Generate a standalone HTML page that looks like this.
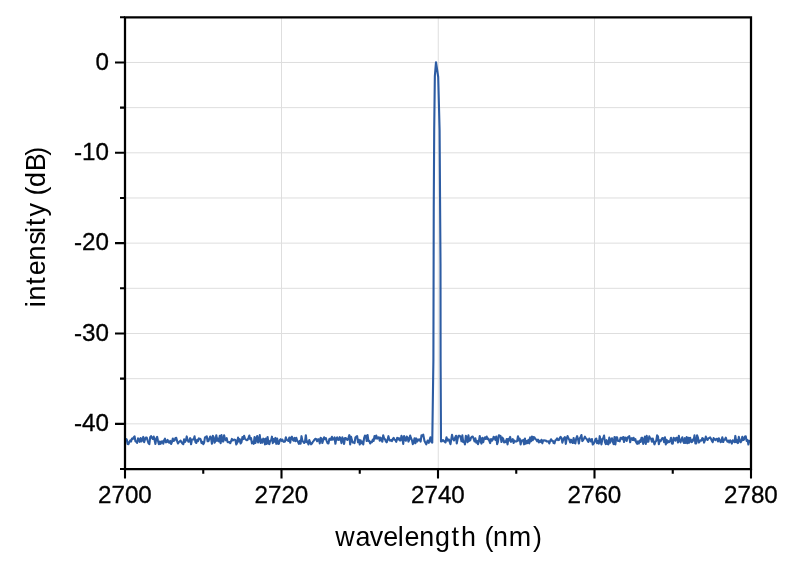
<!DOCTYPE html>
<html lang="en">
<head>
<meta charset="utf-8">
<title>Spectrum</title>
<style>
html,body{margin:0;padding:0;background:#fff;}
body{width:800px;height:565px;overflow:hidden;}
svg{display:block;will-change:transform;}
</style>
</head>
<body>
<svg width="800" height="565" viewBox="0 0 800 565">
<rect x="0" y="0" width="800" height="565" fill="#ffffff"/>
<path d="M281.50 17.30V469.00M438.25 17.30V469.00M594.50 17.30V469.00M125.00 62.47H751.00M125.00 107.64H751.00M125.00 152.81H751.00M125.00 197.98H751.00M125.00 243.15H751.00M125.00 288.32H751.00M125.00 333.49H751.00M125.00 378.66H751.00M125.00 423.83H751.00" stroke="#dedede" stroke-width="1" fill="none"/>
<path d="M125.00 440.57L125.87 439.01L126.74 439.39L127.61 443.96L128.48 444.16L129.35 441.79L130.22 440.45L131.09 441.53L131.96 438.51L132.82 438.99L133.69 437.45L134.56 436.30L135.43 441.43L136.30 441.56L137.17 442.79L138.04 438.40L138.91 439.50L139.78 441.84L140.65 438.00L141.52 441.51L142.39 440.18L143.26 436.91L144.13 442.18L145.00 439.49L145.87 437.53L146.74 437.43L147.61 440.51L148.47 443.06L149.34 444.14L150.21 437.20L151.08 436.15L151.95 437.87L152.82 438.98L153.69 436.52L154.56 440.01L155.43 443.93L156.30 438.44L157.17 436.88L158.04 440.94L158.91 444.24L159.78 441.50L160.65 443.88L161.52 441.77L162.39 441.24L163.26 443.66L164.12 440.33L164.99 438.70L165.86 442.37L166.73 441.94L167.60 439.93L168.47 442.18L169.34 442.76L170.21 440.89L171.08 443.98L171.95 441.98L172.82 438.55L173.69 440.95L174.56 440.34L175.43 438.02L176.30 437.89L177.17 441.28L178.04 443.50L178.91 442.02L179.78 441.35L180.64 440.71L181.51 442.19L182.38 443.54L183.25 444.25L184.12 439.27L184.99 442.12L185.86 440.41L186.73 436.43L187.60 440.07L188.47 441.72L189.34 441.24L190.21 438.16L191.08 444.30L191.95 439.60L192.82 439.53L193.69 439.49L194.56 436.35L195.43 442.08L196.29 442.99L197.16 439.87L198.03 441.10L198.90 438.39L199.77 438.67L200.64 439.38L201.51 443.10L202.38 441.94L203.25 444.25L204.12 442.70L204.99 437.39L205.86 436.92L206.73 436.25L207.60 441.25L208.47 441.27L209.34 438.62L210.21 436.52L211.07 438.28L211.94 443.71L212.81 435.81L213.68 437.34L214.55 442.81L215.42 441.33L216.29 435.21L217.16 440.67L218.03 438.65L218.90 441.52L219.77 435.85L220.64 443.12L221.51 435.13L222.38 441.16L223.25 441.50L224.12 435.22L224.99 439.48L225.86 440.36L226.73 438.17L227.59 442.11L228.46 442.21L229.33 442.03L230.20 443.26L231.07 441.13L231.94 438.93L232.81 440.49L233.68 439.71L234.55 439.62L235.42 440.02L236.29 444.48L237.16 442.87L238.03 437.57L238.90 441.40L239.77 439.20L240.64 443.50L241.51 442.14L242.38 437.12L243.24 439.14L244.11 435.78L244.98 438.65L245.85 439.61L246.72 440.19L247.59 439.94L248.46 437.82L249.33 435.50L250.20 439.16L251.07 438.10L251.94 443.35L252.81 441.78L253.68 443.82L254.55 437.01L255.42 443.04L256.29 438.96L257.16 436.06L258.02 442.42L258.89 440.70L259.76 435.04L260.63 442.97L261.50 439.58L262.37 442.64L263.24 438.67L264.11 439.21L264.98 444.34L265.85 438.54L266.72 443.90L267.59 436.97L268.46 443.51L269.33 444.14L270.20 440.83L271.07 440.47L271.94 436.68L272.81 443.09L273.67 439.05L274.54 441.70L275.41 437.93L276.28 443.82L277.15 438.44L278.02 443.72L278.89 443.88L279.76 440.17L280.63 439.22L281.50 440.84L282.37 439.60L283.24 441.60L284.11 441.88L284.98 441.53L285.85 437.24L286.72 439.73L287.59 440.46L288.46 440.92L289.33 437.50L290.19 442.70L291.06 437.65L291.93 436.68L292.80 439.78L293.67 440.75L294.54 437.93L295.41 441.24L296.28 437.75L297.15 440.64L298.02 441.86L298.89 443.84L299.76 440.90L300.63 443.71L301.50 436.18L302.37 440.77L303.24 441.71L304.11 443.01L304.98 442.00L305.84 435.21L306.71 442.18L307.58 441.56L308.45 444.48L309.32 440.01L310.19 442.57L311.06 444.33L311.93 443.51L312.80 441.93L313.67 440.92L314.54 439.67L315.41 438.75L316.28 439.20L317.15 441.25L318.02 439.24L318.89 439.29L319.76 443.35L320.62 437.80L321.49 438.59L322.36 442.96L323.23 440.00L324.10 437.28L324.97 439.10L325.84 438.12L326.71 441.04L327.58 443.23L328.45 443.51L329.32 439.18L330.19 438.52L331.06 439.78L331.93 436.88L332.80 439.70L333.67 438.97L334.54 437.46L335.41 443.80L336.27 438.63L337.14 437.43L338.01 439.79L338.88 439.93L339.75 437.17L340.62 439.05L341.49 443.11L342.36 437.40L343.23 439.41L344.10 443.94L344.97 438.08L345.84 438.05L346.71 439.57L347.58 439.89L348.45 437.84L349.32 435.15L350.19 444.35L351.06 436.67L351.92 440.21L352.79 442.51L353.66 442.50L354.53 443.16L355.40 437.56L356.27 436.66L357.14 436.03L358.01 442.30L358.88 439.80L359.75 444.48L360.62 440.20L361.49 443.17L362.36 441.49L363.23 444.50L364.10 438.11L364.97 435.65L365.84 435.88L366.71 440.95L367.58 434.95L368.44 441.06L369.31 440.81L370.18 443.54L371.05 441.78L371.92 442.13L372.79 439.68L373.66 440.94L374.53 436.05L375.40 438.48L376.27 435.51L377.14 438.68L378.01 437.50L378.88 437.31L379.75 440.75L380.62 437.69L381.49 439.99L382.36 441.65L383.22 435.20L384.09 438.24L384.96 439.17L385.83 441.22L386.70 442.30L387.57 439.65L388.44 436.17L389.31 439.75L390.18 440.66L391.05 440.00L391.92 441.11L392.79 438.90L393.66 437.82L394.53 439.78L395.40 439.99L396.27 441.89L397.14 437.88L398.01 439.36L398.88 438.15L399.74 440.35L400.61 440.34L401.48 435.78L402.35 438.00L403.22 443.87L404.09 436.05L404.96 439.29L405.83 440.74L406.70 436.63L407.57 437.47L408.44 441.59L409.31 439.51L410.18 435.50L411.05 438.32L411.92 440.14L412.79 444.14L413.66 442.29L414.53 438.34L415.39 443.29L416.26 438.42L417.13 441.59L418.00 439.50L418.87 440.27L419.74 439.25L420.61 441.63L421.48 435.34L422.35 436.05L423.25 434.60L424.50 441.00L426.25 444.30L427.60 440.50L428.80 442.80L430.40 437.20L431.40 442.00L432.25 442.70L433.40 360.00L433.75 207.00L434.20 130.00L434.85 76.00L436.00 62.20L438.20 77.00L439.60 130.00L440.10 207.00L440.50 264.00L440.60 360.00L441.00 441.50L442.00 441.20L443.00 440.00L444.40 441.40L445.50 442.50L446.50 437.30L447.60 440.60L448.80 439.40L450.50 444.20L452.00 434.80L453.00 439.00L454.00 440.50L455.00 438.00L456.00 435.80L456.75 443.50L457.60 439.00L458.50 435.80L459.74 435.71L460.61 437.36L461.47 441.27L462.34 435.35L463.21 442.01L464.08 441.49L464.95 444.48L465.82 435.74L466.69 437.61L467.56 442.28L468.43 435.36L469.30 440.82L470.17 440.40L471.04 437.68L471.91 436.83L472.78 436.64L473.65 438.70L474.52 441.46L475.39 438.38L476.26 442.63L477.12 440.94L477.99 444.19L478.86 441.40L479.73 436.06L480.60 440.86L481.47 443.59L482.34 437.72L483.21 442.28L484.08 438.58L484.95 437.36L485.82 438.94L486.69 436.47L487.56 439.09L488.43 438.59L489.30 440.94L490.17 443.05L491.04 438.98L491.91 440.73L492.78 439.69L493.64 436.78L494.51 437.38L495.38 439.97L496.25 436.47L497.12 444.13L497.99 441.55L498.86 435.20L499.73 435.61L500.60 436.22L501.47 442.03L502.34 437.60L503.21 438.81L504.08 442.43L504.95 441.45L505.82 442.08L506.69 439.00L507.56 444.41L508.43 438.88L509.29 440.63L510.16 436.90L511.03 441.82L511.90 440.73L512.77 439.06L513.64 442.95L514.51 440.60L515.38 441.57L516.25 441.53L517.12 441.10L517.99 436.26L518.86 440.39L519.73 438.66L520.60 444.45L521.47 440.48L522.34 440.65L523.21 439.96L524.08 444.33L524.94 438.51L525.81 443.62L526.68 441.04L527.55 443.08L528.42 439.74L529.29 443.38L530.16 437.42L531.03 441.34L531.90 436.54L532.77 440.28L533.64 437.03L534.51 437.39L535.38 439.30L536.25 439.56L537.12 441.23L537.99 439.68L538.86 442.43L539.72 440.75L540.59 441.93L541.46 439.81L542.33 443.32L543.20 440.42L544.07 440.26L544.94 440.61L545.81 440.47L546.68 441.45L547.55 441.40L548.42 441.25L549.29 443.48L550.16 440.89L551.03 439.24L551.90 440.83L552.77 440.71L553.64 443.04L554.51 443.32L555.38 440.33L556.24 439.78L557.11 438.39L557.98 440.10L558.85 440.05L559.72 438.11L560.59 436.88L561.46 437.88L562.33 442.65L563.20 439.94L564.07 437.93L564.94 437.14L565.81 443.85L566.68 438.58L567.55 436.03L568.42 438.27L569.29 439.73L570.16 442.52L571.03 439.68L571.89 441.95L572.76 442.97L573.63 438.02L574.50 442.90L575.37 443.42L576.24 438.43L577.11 436.16L577.98 438.96L578.85 443.52L579.72 438.49L580.59 436.88L581.46 435.03L582.33 441.07L583.20 440.01L584.07 438.56L584.94 436.67L585.81 438.40L586.67 438.91L587.54 440.63L588.41 441.96L589.28 438.62L590.15 439.61L591.02 441.49L591.89 439.00L592.76 444.49L593.63 443.50L594.50 442.37L595.37 439.30L596.24 438.54L597.11 443.23L597.98 440.96L598.85 443.60L599.72 436.17L600.59 440.67L601.46 444.41L602.33 439.13L603.19 438.34L604.06 435.54L604.93 442.14L605.80 444.10L606.67 440.18L607.54 443.96L608.41 444.40L609.28 437.62L610.15 442.61L611.02 439.66L611.89 438.23L612.76 441.56L613.63 444.05L614.50 437.02L615.37 444.46L616.24 437.38L617.11 437.41L617.97 441.04L618.84 441.01L619.71 441.30L620.58 437.86L621.45 437.70L622.32 439.21L623.19 436.97L624.06 441.98L624.93 437.50L625.80 437.91L626.67 440.88L627.54 437.39L628.41 437.37L629.28 436.09L630.15 442.23L631.02 438.48L631.89 438.15L632.76 440.02L633.62 437.84L634.49 440.33L635.36 439.06L636.23 442.49L637.10 443.77L637.97 441.43L638.84 443.50L639.71 440.47L640.58 441.99L641.45 437.89L642.32 437.84L643.19 443.89L644.06 441.04L644.93 436.67L645.80 443.89L646.67 435.76L647.54 441.61L648.41 441.59L649.27 436.40L650.14 438.44L651.01 438.47L651.88 441.65L652.75 438.50L653.62 441.46L654.49 444.32L655.36 441.81L656.23 440.99L657.10 435.29L657.97 436.37L658.84 444.22L659.71 440.34L660.58 441.20L661.45 439.55L662.32 438.00L663.19 438.20L664.06 442.12L664.93 437.22L665.79 444.48L666.66 439.81L667.53 442.75L668.40 441.19L669.27 442.02L670.14 440.77L671.01 437.82L671.88 443.47L672.75 443.74L673.62 437.84L674.49 438.50L675.36 440.68L676.23 437.86L677.10 437.87L677.97 442.54L678.84 435.89L679.71 440.89L680.57 442.28L681.44 439.43L682.31 437.31L683.18 441.18L684.05 443.03L684.92 438.18L685.79 442.89L686.66 437.12L687.53 443.30L688.40 437.90L689.27 442.66L690.14 437.80L691.01 441.37L691.88 442.11L692.75 439.63L693.62 440.54L694.49 435.30L695.36 443.42L696.23 443.39L697.09 435.32L697.96 437.63L698.83 442.44L699.70 441.46L700.57 440.21L701.44 440.59L702.31 438.11L703.18 438.65L704.05 442.59L704.92 440.47L705.79 436.64L706.66 439.19L707.53 440.01L708.40 438.20L709.27 437.91L710.14 437.46L711.01 438.85L711.88 440.86L712.74 442.08L713.61 438.13L714.48 439.01L715.35 440.14L716.22 439.08L717.09 438.80L717.96 441.40L718.83 438.26L719.70 439.78L720.57 442.23L721.44 441.60L722.31 437.24L723.18 442.05L724.05 439.48L724.92 439.65L725.79 437.62L726.66 440.32L727.52 441.72L728.39 440.49L729.26 442.49L730.13 440.27L731.00 441.48L731.87 443.60L732.74 440.38L733.61 440.96L734.48 442.07L735.35 435.93L736.22 442.20L737.09 440.21L737.96 443.07L738.83 436.91L739.70 440.01L740.57 442.27L741.44 441.10L742.31 436.75L743.18 440.03L744.04 439.50L744.91 436.57L745.78 436.40L746.65 440.91L747.52 440.08L748.39 444.47L749.26 440.77L750.13 441.62L751.00 440.41" stroke="#2d5ca3" stroke-width="2.1" fill="none" stroke-linejoin="round" stroke-linecap="butt"/>
<path d="M125.0 17.3H751.0V469.0H125.0Z" stroke="#000" stroke-width="2.25" fill="none" stroke-linejoin="miter"/>
<path d="M125.00 469.00V478.50M281.50 469.00V478.50M438.00 469.00V478.50M594.50 469.00V478.50M751.00 469.00V478.50M203.25 469.00V473.80M359.75 469.00V473.80M516.25 469.00V473.80M672.75 469.00V473.80M125.00 62.47H115.00M125.00 152.81H115.00M125.00 243.15H115.00M125.00 333.49H115.00M125.00 423.83H115.00M125.00 17.30H120.00M125.00 107.64H120.00M125.00 197.98H120.00M125.00 288.32H120.00M125.00 378.66H120.00M125.00 469.00H120.00" stroke="#000" stroke-width="2.1" fill="none"/>
<g font-family="'Liberation Sans', Arial, sans-serif" font-size="24.2" fill="#000" stroke="#000" stroke-width="0.3">
<text x="124.90" y="502.8" text-anchor="middle">2700</text>
<text x="281.40" y="502.8" text-anchor="middle">2720</text>
<text x="437.90" y="502.8" text-anchor="middle">2740</text>
<text x="594.40" y="502.8" text-anchor="middle">2760</text>
<text x="750.90" y="502.8" text-anchor="middle">2780</text>
<text x="109.0" y="69.67" text-anchor="end">0</text>
<text x="109.0" y="160.01" text-anchor="end">-10</text>
<text x="109.0" y="250.35" text-anchor="end">-20</text>
<text x="109.0" y="340.69" text-anchor="end">-30</text>
<text x="109.0" y="431.03" text-anchor="end">-40</text>
</g>
<g font-family="'Liberation Sans', Arial, sans-serif" font-size="28" fill="#000">
<text transform="scale(0.96 1)" x="349.17 370.34 385.19 399.16 414.41 421.47 436.72 453.20 470.35 480.24 496.72 504.71 513.52 530.00 555.11" y="545.8">wavelength (nm)</text>
<text transform="translate(45.4 307.3) rotate(-90) scale(0.96 1)" x="0.00 7.06 23.54 33.42 48.68 65.16 77.52 84.58 94.47 108.44 116.43 125.24 141.77 157.85" y="0">intensity (dB)</text>
</g>
</svg>
</body>
</html>
